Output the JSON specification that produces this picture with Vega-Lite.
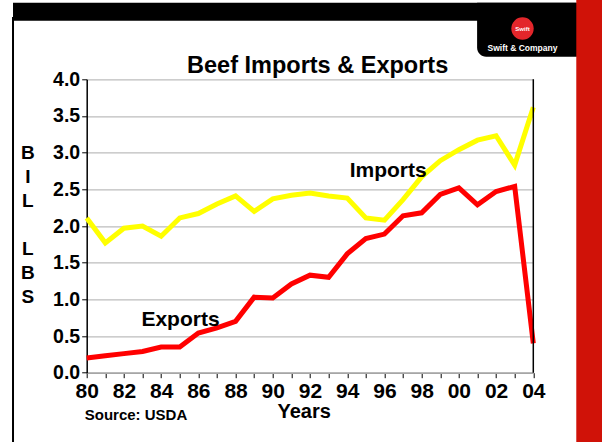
{
  "$schema": "https://vega.github.io/schema/vega-lite/v6.json",
  "width": 446.6,
  "height": 293.4,
  "autosize": {"type": "none"},
  "padding": {"left": 86.7, "top": 79.3, "right": 68.7, "bottom": 69.3},
  "background": "white",
  "config": {"view": {"stroke": null}, "font": "Liberation Sans"},
  "resolve": {"axis": {"x": "independent", "y": "independent"}},
  "data": {"values": [
    {"year": 1980, "series": "Imports", "value": 2.11},
    {"year": 1981, "series": "Imports", "value": 1.77},
    {"year": 1982, "series": "Imports", "value": 1.97},
    {"year": 1983, "series": "Imports", "value": 2.0},
    {"year": 1984, "series": "Imports", "value": 1.86},
    {"year": 1985, "series": "Imports", "value": 2.11},
    {"year": 1986, "series": "Imports", "value": 2.17},
    {"year": 1987, "series": "Imports", "value": 2.3},
    {"year": 1988, "series": "Imports", "value": 2.41},
    {"year": 1989, "series": "Imports", "value": 2.2},
    {"year": 1990, "series": "Imports", "value": 2.37},
    {"year": 1991, "series": "Imports", "value": 2.42},
    {"year": 1992, "series": "Imports", "value": 2.45},
    {"year": 1993, "series": "Imports", "value": 2.41},
    {"year": 1994, "series": "Imports", "value": 2.38},
    {"year": 1995, "series": "Imports", "value": 2.11},
    {"year": 1996, "series": "Imports", "value": 2.08},
    {"year": 1997, "series": "Imports", "value": 2.36},
    {"year": 1998, "series": "Imports", "value": 2.67},
    {"year": 1999, "series": "Imports", "value": 2.89},
    {"year": 2000, "series": "Imports", "value": 3.04},
    {"year": 2001, "series": "Imports", "value": 3.17},
    {"year": 2002, "series": "Imports", "value": 3.23},
    {"year": 2003, "series": "Imports", "value": 2.83},
    {"year": 2004, "series": "Imports", "value": 3.62},
    {"year": 1980, "series": "Exports", "value": 0.2},
    {"year": 1981, "series": "Exports", "value": 0.23},
    {"year": 1982, "series": "Exports", "value": 0.26},
    {"year": 1983, "series": "Exports", "value": 0.29},
    {"year": 1984, "series": "Exports", "value": 0.35},
    {"year": 1985, "series": "Exports", "value": 0.35},
    {"year": 1986, "series": "Exports", "value": 0.54},
    {"year": 1987, "series": "Exports", "value": 0.61},
    {"year": 1988, "series": "Exports", "value": 0.7},
    {"year": 1989, "series": "Exports", "value": 1.03},
    {"year": 1990, "series": "Exports", "value": 1.02},
    {"year": 1991, "series": "Exports", "value": 1.21},
    {"year": 1992, "series": "Exports", "value": 1.33},
    {"year": 1993, "series": "Exports", "value": 1.3},
    {"year": 1994, "series": "Exports", "value": 1.62},
    {"year": 1995, "series": "Exports", "value": 1.83},
    {"year": 1996, "series": "Exports", "value": 1.89},
    {"year": 1997, "series": "Exports", "value": 2.14},
    {"year": 1998, "series": "Exports", "value": 2.18},
    {"year": 1999, "series": "Exports", "value": 2.43},
    {"year": 2000, "series": "Exports", "value": 2.52},
    {"year": 2001, "series": "Exports", "value": 2.29},
    {"year": 2002, "series": "Exports", "value": 2.47},
    {"year": 2003, "series": "Exports", "value": 2.54},
    {"year": 2004, "series": "Exports", "value": 0.4}
  ]},
  "layer": [
    {
      "mark": {"type": "line", "strokeWidth": 5},
      "encoding": {
        "x": {
          "field": "year", "type": "quantitative",
          "scale": {"domain": [1980, 2004], "nice": false, "zero": false},
          "axis": {
            "values": [1980,1981,1982,1983,1984,1985,1986,1987,1988,1989,1990,1991,1992,1993,1994,1995,1996,1997,1998,1999,2000,2001,2002,2003,2004],
            "labelExpr": "datum.value % 2 == 0 ? (datum.value % 100 < 10 ? '0' + (datum.value % 100) : '' + (datum.value % 100)) : ''",
            "labelFont": "Liberation Sans", "labelFontSize": 21, "labelFontWeight": "bold", "labelColor": "black",
            "labelPadding": 3, "labelFlush": false, "labelOverlap": false,
            "tickColor": "black", "tickSize": 5, "tickWidth": 1,
            "domainColor": "#a6a6a6", "domainWidth": 1.5, "grid": false,
            "title": "Years", "titleFont": "Liberation Sans", "titleFontSize": 20, "titleFontWeight": "bold", "titleColor": "black",
            "titleX": 217, "titleY": 45, "titleBaseline": "alphabetic", "titleAlign": "center"
          }
        },
        "y": {
          "field": "value", "type": "quantitative",
          "scale": {"domain": [0, 4], "nice": false, "zero": false},
          "axis": {
            "values": [0, 0.5, 1, 1.5, 2, 2.5, 3, 3.5, 4], "format": ".1f",
            "labelFont": "Liberation Sans", "labelFontSize": 19.5, "labelFontWeight": "bold", "labelColor": "black", "labelPadding": 2,
            "labelOverlap": false,
            "tickColor": "black", "tickSize": 5, "tickWidth": 1,
            "domainColor": "black", "domainWidth": 1.5,
            "grid": true, "gridColor": "#bdbdbd", "gridWidth": 1.2,
            "title": null
          }
        },
        "color": {
          "field": "series", "type": "nominal",
          "scale": {"domain": ["Imports", "Exports"], "range": ["#ffff00", "#ff0000"]},
          "legend": null
        }
      }
    },
    {
      "data": {"values": [{}]},
      "mark": {"type": "rule", "color": "black", "strokeWidth": 1.5},
      "encoding": {"x": {"datum": 2004, "axis": null}, "y": {"datum": 0, "axis": null}, "y2": {"datum": 4}}
    },
    {
      "data": {"values": [{}]},
      "mark": {"type": "rect", "color": "black"},
      "encoding": {"x": {"datum": 1976.04, "axis": null}, "x2": {"datum": 2006.31}, "y": {"datum": 5.044, "axis": null}, "y2": {"datum": 4.798}}
    },
    {
      "data": {"values": [{}]},
      "mark": {"type": "rect", "color": "black", "cornerRadiusBottomLeft": 9},
      "encoding": {"x": {"datum": 2000.98, "axis": null}, "x2": {"datum": 2006.5}, "y": {"datum": 5.044, "axis": null}, "y2": {"datum": 4.307}}
    },
    {
      "data": {"values": [{}]},
      "mark": {"type": "rect", "color": "#d01208"},
      "encoding": {"x": {"datum": 2006.31, "axis": null}, "x2": {"datum": 2007.75}, "y": {"datum": 5.1, "axis": null}, "y2": {"datum": -1.0}}
    },
    {
      "data": {"values": [{}]},
      "mark": {"type": "rule", "color": "black", "strokeWidth": 2},
      "encoding": {"x": {"datum": 1976.04, "axis": null}, "y": {"datum": 4.85, "axis": null}, "y2": {"datum": -1.0}}
    },
    {
      "data": {"values": [{}]},
      "mark": {"type": "point", "filled": true, "color": "#e3262b", "size": 500, "opacity": 1},
      "encoding": {"x": {"datum": 2003.42, "axis": null}, "y": {"datum": 4.692, "axis": null}}
    },
    {
      "data": {"values": [{}]},
      "mark": {"type": "text", "color": "white", "font": "Liberation Sans", "fontSize": 6, "fontWeight": "bold", "align": "center", "baseline": "middle", "text": "Swift"},
      "encoding": {"x": {"datum": 2003.42, "axis": null}, "y": {"datum": 4.692, "axis": null}}
    },
    {
      "data": {"values": [{}]},
      "mark": {"type": "text", "color": "white", "font": "Liberation Sans", "fontSize": 8.5, "fontWeight": "bold", "align": "center", "baseline": "middle", "text": "Swift & Company"},
      "encoding": {"x": {"datum": 2003.42, "axis": null}, "y": {"datum": 4.43, "axis": null}}
    },
    {
      "data": {"values": [{}]},
      "mark": {"type": "text", "color": "black", "font": "Liberation Sans", "fontSize": 23.5, "fontWeight": "bold", "align": "center", "baseline": "alphabetic", "text": "Beef Imports & Exports"},
      "encoding": {"x": {"datum": 1992.41, "axis": null}, "y": {"datum": 4.085, "axis": null}}
    },
    {
      "data": {"values": [{}]},
      "mark": {"type": "text", "color": "black", "font": "Liberation Sans", "fontSize": 19, "fontWeight": "bold", "align": "center", "baseline": "middle", "lineHeight": 24, "text": ["B", "I", "L"]},
      "encoding": {"x": {"datum": 1976.84, "axis": null}, "y": {"datum": 2.997, "axis": null}}
    },
    {
      "data": {"values": [{}]},
      "mark": {"type": "text", "color": "black", "font": "Liberation Sans", "fontSize": 19, "fontWeight": "bold", "align": "center", "baseline": "middle", "lineHeight": 24, "text": ["L", "B", "S"]},
      "encoding": {"x": {"datum": 1976.84, "axis": null}, "y": {"datum": 1.688, "axis": null}}
    },
    {
      "data": {"values": [{}]},
      "mark": {"type": "text", "color": "black", "font": "Liberation Sans", "fontSize": 21, "fontWeight": "bold", "align": "center", "baseline": "alphabetic", "text": "Imports"},
      "encoding": {"x": {"datum": 1996.2, "axis": null}, "y": {"datum": 2.665, "axis": null}}
    },
    {
      "data": {"values": [{}]},
      "mark": {"type": "text", "color": "black", "font": "Liberation Sans", "fontSize": 21, "fontWeight": "bold", "align": "center", "baseline": "alphabetic", "text": "Exports"},
      "encoding": {"x": {"datum": 1985.04, "axis": null}, "y": {"datum": 0.63, "axis": null}}
    },
    {
      "data": {"values": [{}]},
      "mark": {"type": "text", "color": "black", "font": "Liberation Sans", "fontSize": 15, "fontWeight": "bold", "align": "center", "baseline": "alphabetic", "text": "Source: USDA"},
      "encoding": {"x": {"datum": 1982.65, "axis": null}, "y": {"datum": -0.645, "axis": null}}
    }
  ]
}
